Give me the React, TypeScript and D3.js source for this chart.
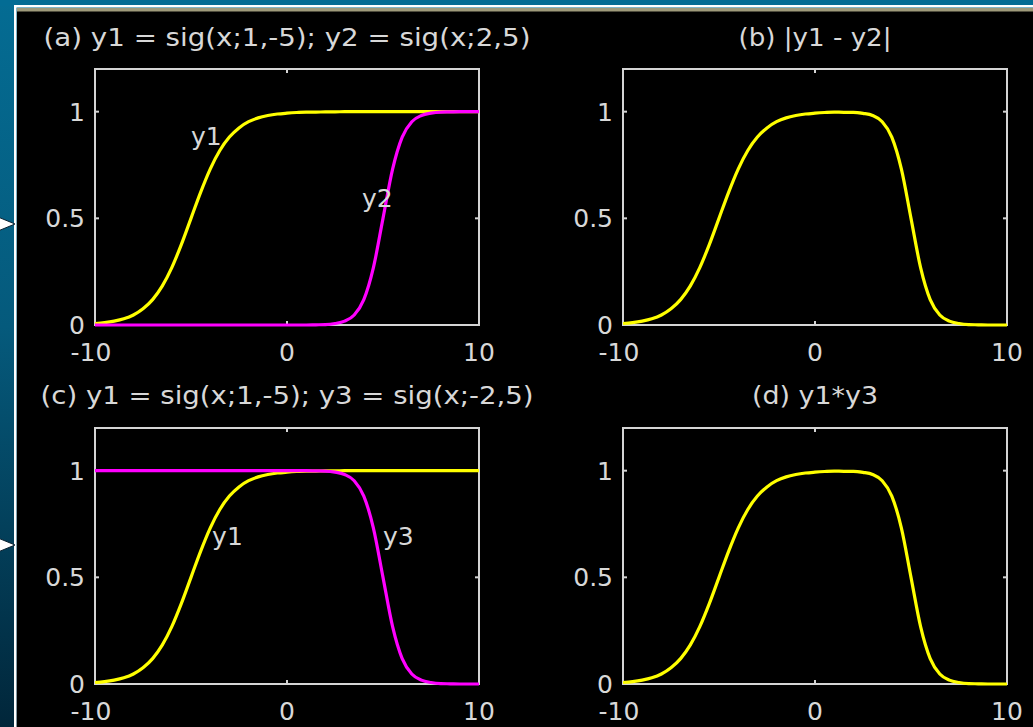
import React from 'react';
import * as d3 from 'd3';

// sample grid, step 0.5 from -10 to 10
const xs = [
  -10, -9.5, -9, -8.5, -8, -7.5, -7, -6.5, -6, -5.5, -5, -4.5, -4, -3.5, -3, -2.5, -2, -1.5, -1, -0.5,
  0, 0.5, 1, 1.5, 2, 2.5, 3, 3.5, 4, 4.5, 5, 5.5, 6, 6.5, 7, 7.5, 8, 8.5, 9, 9.5, 10,
];

// y1 = sig(x;1,-5)
const y1 = [
  0.007, 0.011, 0.018, 0.029, 0.047, 0.076, 0.119, 0.182, 0.269, 0.378, 0.5, 0.622, 0.731, 0.818, 0.881,
  0.924, 0.953, 0.971, 0.982, 0.989, 0.993, 0.996, 0.998, 0.998, 0.999, 0.999, 1, 1, 1, 1, 1, 1, 1, 1, 1,
  1, 1, 1, 1, 1, 1,
];

// y2 = sig(x;2,5)
const y2 = [
  0, 0, 0, 0, 0, 0, 0, 0, 0, 0, 0, 0, 0, 0, 0, 0, 0, 0, 0, 0, 0, 0, 0,
  0.001, 0.002, 0.007, 0.018, 0.047, 0.119, 0.269, 0.5, 0.731, 0.881, 0.953, 0.982, 0.993, 0.998, 0.999, 1, 1, 1,
];

// y3 = sig(x;-2,5)
const y3 = [
  1, 1, 1, 1, 1, 1, 1, 1, 1, 1, 1, 1, 1, 1, 1, 1, 1, 1, 1, 1, 1, 1, 1,
  0.999, 0.998, 0.993, 0.982, 0.953, 0.881, 0.731, 0.5, 0.269, 0.119, 0.047, 0.018, 0.007, 0.002, 0.001, 0, 0, 0,
];

// |y1 - y2|
const absDiff = [
  0.007, 0.011, 0.018, 0.029, 0.047, 0.076, 0.119, 0.182, 0.269, 0.378, 0.5, 0.622, 0.731, 0.818, 0.881,
  0.924, 0.953, 0.971, 0.982, 0.989, 0.993, 0.996, 0.998, 0.997, 0.997, 0.992, 0.982, 0.953, 0.881, 0.731,
  0.5, 0.269, 0.119, 0.047, 0.018, 0.007, 0.002, 0.001, 0, 0, 0,
];

// y1*y3
const prod = [
  0.007, 0.011, 0.018, 0.029, 0.047, 0.076, 0.119, 0.182, 0.269, 0.378, 0.5, 0.622, 0.731, 0.818, 0.881,
  0.924, 0.953, 0.971, 0.982, 0.989, 0.993, 0.996, 0.998, 0.997, 0.997, 0.992, 0.982, 0.953, 0.881, 0.731,
  0.5, 0.269, 0.119, 0.047, 0.018, 0.007, 0.002, 0.001, 0, 0, 0,
];

const xTicks = [-10, 0, 10];
const yTicks = [0, 0.5, 1];
const xTickLabels = ['-10', '0', '10'];
const yTickLabels = ['0', '0.5', '1'];

const YELLOW = '#ffff00';
const MAGENTA = '#ff00ff';
const AXIS = '#d4d4d4';
const TEXT = '#d8d8d8';
const FONT = '"DejaVu Sans", Verdana, sans-serif';

const panels = [
  {
    key: 'a', left: 95, right: 479, top: 69, bottom: 325, titleY: 46, titleW: 487,
    title: '(a) y1 = sig(x;1,-5); y2 = sig(x;2,5)',
    series: [{ v: y1, c: YELLOW }, { v: y2, c: MAGENTA }],
    labels: [{ t: 'y1', x: -5, y: 0.88 }, { t: 'y2', x: 3.9, y: 0.59 }],
  },
  {
    key: 'b', left: 623, right: 1007, top: 69, bottom: 325, titleY: 46, titleW: 153,
    title: '(b) |y1 - y2|',
    series: [{ v: absDiff, c: YELLOW }],
    labels: [],
  },
  {
    key: 'c', left: 95, right: 479, top: 428, bottom: 684, titleY: 404, titleW: 493,
    title: '(c) y1 = sig(x;1,-5); y3 = sig(x;-2,5)',
    series: [{ v: y1, c: YELLOW }, { v: y3, c: MAGENTA }],
    labels: [{ t: 'y1', x: -3.9, y: 0.69 }, { t: 'y3', x: 5, y: 0.69 }],
  },
  {
    key: 'd', left: 623, right: 1007, top: 428, bottom: 684, titleY: 404, titleW: 126,
    title: '(d) y1*y3',
    series: [{ v: prod, c: YELLOW }],
    labels: [],
  },
];

const Panel = ({ p }) => {
  const x = d3.scaleLinear().domain([-10, 10]).range([p.left, p.right]);
  const y = d3.scaleLinear().domain([0, 1.2]).range([p.bottom, p.top]);
  const line = d3.line<number>()
    .x((_, i) => x(xs[i]))
    .y(d => y(d))
    .curve(d3.curveMonotoneX);
  const tk = 4;
  const cx = (p.left + p.right) / 2;

  return (
    <g>
      <text x={cx} y={p.titleY} textAnchor="middle" fill={TEXT} fontSize={25} fontFamily={FONT}
        textLength={p.titleW} lengthAdjust="spacingAndGlyphs">{p.title}</text>

      <rect x={p.left} y={p.top} width={p.right - p.left} height={p.bottom - p.top}
        fill="none" stroke={AXIS} strokeWidth={2} />

      {xTicks.map(t => (
        <g key={'x' + t}>
          <line x1={x(t)} x2={x(t)} y1={p.bottom} y2={p.bottom - tk} stroke={AXIS} strokeWidth={2} />
          <line x1={x(t)} x2={x(t)} y1={p.top} y2={p.top + tk} stroke={AXIS} strokeWidth={2} />
        </g>
      ))}
      {yTicks.map(t => (
        <g key={'y' + t}>
          <line x1={p.left} x2={p.left + tk} y1={y(t)} y2={y(t)} stroke={AXIS} strokeWidth={2} />
          <line x1={p.right} x2={p.right - tk} y1={y(t)} y2={y(t)} stroke={AXIS} strokeWidth={2} />
        </g>
      ))}

      {/* curves sit on top of the box edges */}
      {p.series.map((s, i) => (
        <path key={i} d={line(s.v) || ''} fill="none" stroke={s.c} strokeWidth={3.2} strokeLinejoin="round" />
      ))}

      {xTicks.map((t, i) => (
        <text key={'xl' + t} x={x(t) - (t < 0 ? 4 : 0)} y={p.bottom + 36} textAnchor="middle"
          fill={TEXT} fontSize={25} fontFamily={FONT}>{xTickLabels[i]}</text>
      ))}
      {yTicks.map((t, i) => (
        <text key={'yl' + t} x={p.left - 10} y={y(t) + 9} textAnchor="end"
          fill={TEXT} fontSize={25} fontFamily={FONT}>{yTickLabels[i]}</text>
      ))}

      {p.labels.map(l => (
        <text key={l.t} x={x(l.x)} y={y(l.y) + 8} fill={TEXT} fontSize={25} fontFamily={FONT}>{l.t}</text>
      ))}
    </g>
  );
};

export default function App() {
  const W = 1033;
  const H = 727;
  const arrowYs = [224, 545];
  return (
    <svg width={W} height={H} style={{ position: 'absolute', left: 0, top: 0 }}>
      <defs>
        <linearGradient id="bg" x1="0" y1="0" x2="0" y2="1">
          <stop offset="0%" stopColor="#046c93" />
          <stop offset="45%" stopColor="#055a7c" />
          <stop offset="100%" stopColor="#01263a" />
        </linearGradient>
      </defs>
      <rect x={0} y={0} width={W} height={H} fill="url(#bg)" />
      <rect x={0} y={0} width={W} height={6} fill="#036c94" />
      <rect x={14} y={5} width={W - 14} height={2.5} fill="#ffffff" />
      <rect x={14} y={5} width={2.5} height={H - 5} fill="#ffffff" />
      <rect x={17} y={8} width={W - 17} height={H - 8} fill="#000000" />
      <rect x={17} y={8} width={W - 17} height={3.5} fill="#9e9a7a" />

      {arrowYs.map(ay => (
        <path key={ay} d={`M-2,${ay - 7} L15,${ay} L-2,${ay + 7} Z`} fill="#ffffff" stroke="#0a2030" strokeWidth={1} />
      ))}

      {panels.map(p => <Panel key={p.key} p={p} />)}
    </svg>
  );
}
